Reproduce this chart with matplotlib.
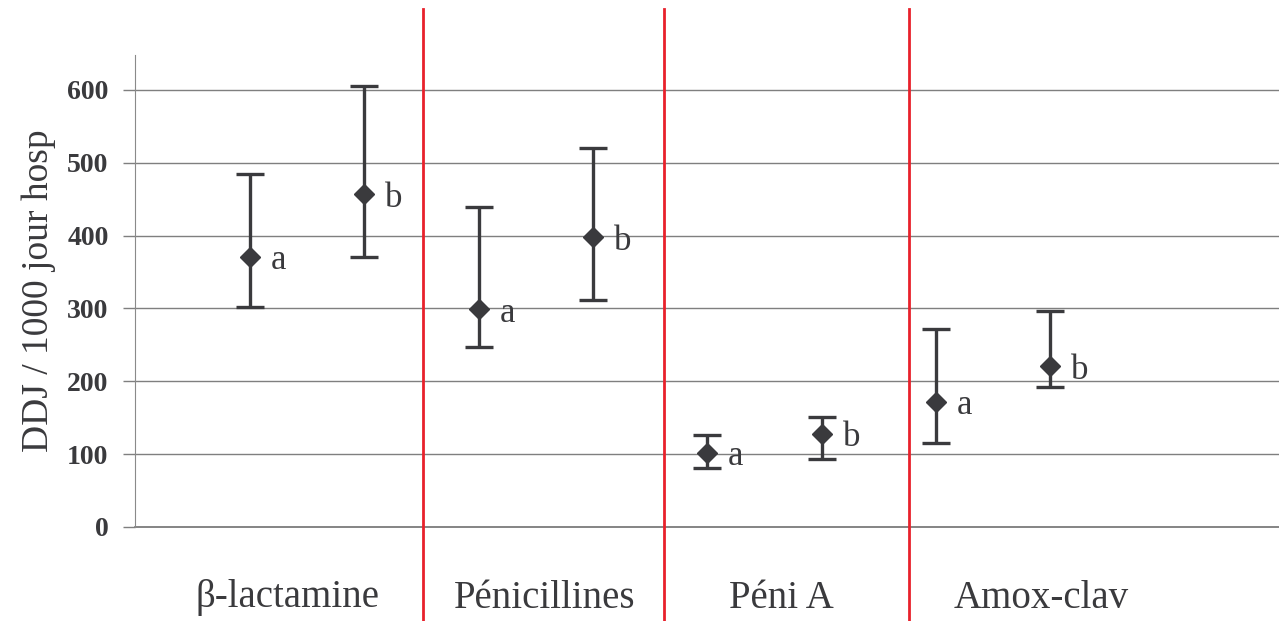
import matplotlib.pyplot as plt
from matplotlib.lines import Line2D
from matplotlib.transforms import blended_transform_factory

# data
categories = ["β-lactamine", "Pénicillines", "Péni A", "Amox-clav"]
groups = ["a", "b"]
means = [371, 457, 299, 398, 102, 128, 172, 221]
upper = [485, 606, 439, 520, 126, 151, 272, 297]
lower = [302, 371, 247, 312, 81, 93, 115, 192]
yticks = [0, 100, 200, 300, 400, 500, 600]

plt.rcParams['font.family'] = ['Liberation Serif', 'DejaVu Serif']
ink = '#3a3a3d'

fig = plt.figure(figsize=(12.79, 6.21), dpi=100)
ax = fig.add_axes([135 / 1279, 1 - 527 / 621, 1 - 135 / 1279, (527 - 55) / 621])

xs = list(range(len(means)))
err = [[m - lo for m, lo in zip(means, lower)], [u - m for m, u in zip(means, upper)]]
ax.errorbar(xs, means, yerr=err, fmt='D', color=ink, ms=10.5, elinewidth=2.4,
            capsize=10, capthick=2.4, zorder=3)
for i, m in enumerate(means):
    ax.annotate(groups[i % 2], (xs[i], m), xytext=(15, -3), textcoords='offset points',
                ha='left', va='center', fontsize=25, color=ink)

ax.set_xlim(-1.006, 9.0)
ax.set_ylim(0, 648)
ax.set_yticks(yticks)
ax.set_yticklabels([str(t) for t in yticks], fontsize=20, fontweight='bold', color=ink)
ax.set_xticks([])
ax.tick_params(axis='y', length=9, width=1, color='#7f7f7f', pad=10)
for y in yticks:
    ax.axhline(y, color='#6f6f6f' if y == 0 else '#7f7f7f', lw=1.2 if y == 0 else 1,
               zorder=1, clip_on=False)
for s in ['top', 'right', 'bottom']:
    ax.spines[s].set_visible(False)
ax.spines['left'].set_color('#8a8a8a')
ax.set_ylabel("DDJ / 1000 jour hosp", fontsize=27, color=ink, labelpad=8)

# red separators across the whole figure height
tr = blended_transform_factory(ax.transData, fig.transFigure)
for xv in [1.514, 3.622, 5.766]:
    fig.add_artist(Line2D([xv, xv], [0, 1 - 9 / 621], transform=tr, color='#e8212b', lw=2))

cat_x = [0.33, 2.58, 4.65, 6.92]
for cx, name in zip(cat_x, categories):
    t = fig.text(0, 1 - 598 / 621, name, transform=tr, fontsize=28, color=ink,
                 ha='center', va='center')
    t.set_x(cx)

fig.savefig("out.png", dpi=100)
